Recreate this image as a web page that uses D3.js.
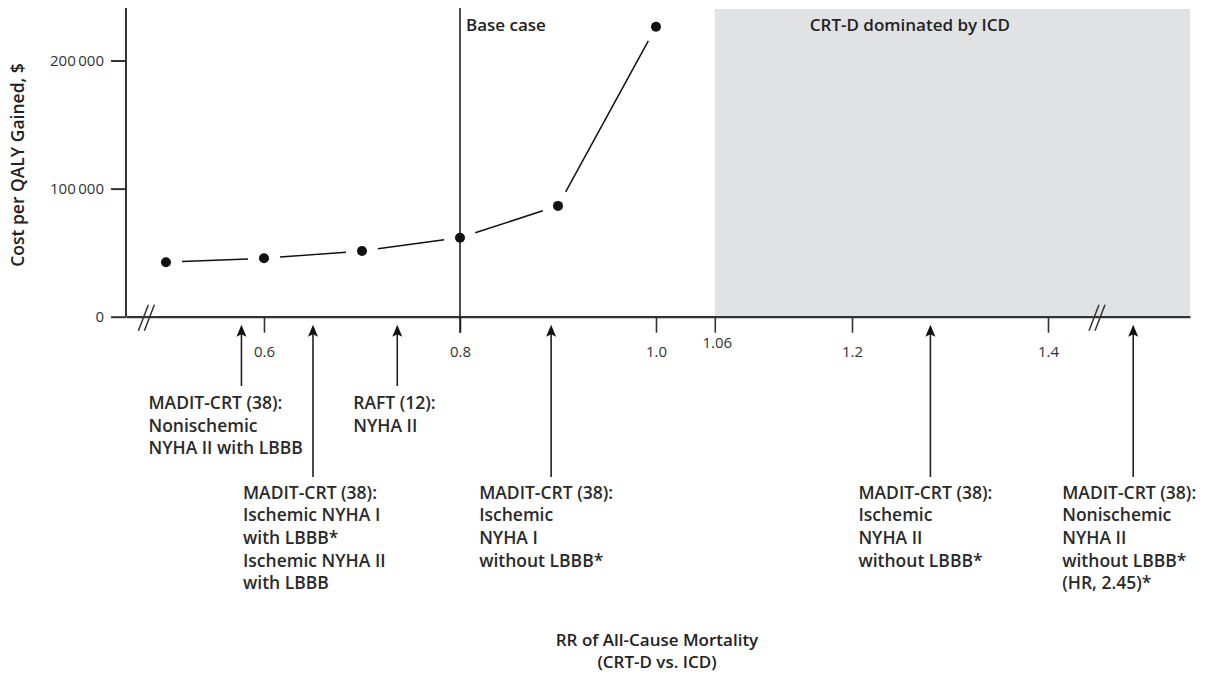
<!DOCTYPE html>
<html>
<head>
<meta charset="utf-8">
<script src="https://cdn.jsdelivr.net/npm/d3@7"></script>
<style>
  body { margin: 0; background: #fff; }
  svg { display: block; font-family: "Open Sans", sans-serif; }
</style>
</head>
<body>
<div id="chart"></div>
<script>
'use strict';

// data
const rrValues = [0.5, 0.6, 0.7, 0.8, 0.9, 1.0]
const costPerQaly = [42500, 45600, 51300, 61700, 86500, 226300]
const xTickValues = [0.6, 0.8, 1.0, 1.06, 1.2, 1.4]
const yTickValues = [0, 100000, 200000]
const baseCaseRR = 0.8
const dominatedFromRR = 1.06
const axisBreaksRR = [0.48, 1.45]
const studyRR = [0.577, 0.65, 0.736, 0.893, 1.28, 2.45]
const studyTier = [1, 2, 1, 2, 2, 2]
const studyLabels = [
  ['MADIT-CRT (38):', 'Nonischemic', 'NYHA II with LBBB'],
  ['MADIT-CRT (38):', 'Ischemic NYHA I', 'with LBBB*', 'Ischemic NYHA II', 'with LBBB'],
  ['RAFT (12):', 'NYHA II'],
  ['MADIT-CRT (38):', 'Ischemic', 'NYHA I', 'without LBBB*'],
  ['MADIT-CRT (38):', 'Ischemic', 'NYHA II', 'without LBBB*'],
  ['MADIT-CRT (38):', 'Nonischemic', 'NYHA II', 'without LBBB*', '(HR, 2.45)*']
]

// layout
const width = 1220
const height = 677
const labelDx = [-93, -70, -44, -72, -72, -71]
const tierTop = {1: 409, 2: 498.5}     // first baseline of label block
const tierArrowEnd = {1: 386, 2: 477}
const lineGap = 22.7
const ink = '#333'

const svg = d3.select('#chart')
  .append('svg')
  .attr('width', width)
  .attr('height', height)

// x scale is broken after 1.45 and jumps to the HR 2.45 region
const xScale = d3.scaleLinear()
  .domain([0.4592, 1.45, 2.413, 2.508])
  .range([126, 1097, 1097, 1190])

const yScale = d3.scaleLinear()
  .domain([0, 241000])
  .range([316.7, 8])

const xEnd = xScale.range()[3]
const yTop = yScale.range()[1]

// shaded region
svg.append('rect')
  .attr('x', xScale(dominatedFromRR))
  .attr('y', yScale(241000) + 1)
  .attr('width', xEnd - xScale(dominatedFromRR))
  .attr('height', yScale(0) - yScale(241000) - 1)
  .attr('fill', '#e1e2e4')

svg.append('text')
  .attr('x', xScale(dominatedFromRR) + 95)
  .attr('y', 31)
  .attr('font-size', 17)
  .attr('font-weight', 600)
  .attr('fill', '#222')
  .text('CRT-D dominated by ICD')

// y axis
const fmt = d3.formatLocale({decimal: '.', thousands: '\u2009', grouping: [3], currency: ['', '']}).format(',')
const yAxisGroup = svg.append('g')
  .attr('transform', `translate(126,0)`)
  .call(d3.axisLeft(yScale).tickValues(yTickValues).tickFormat(fmt).tickSize(15).tickPadding(7).tickSizeOuter(0))
yAxisGroup.select('.domain').remove()
yAxisGroup.append('line')
  .attr('x1', 0).attr('x2', 0)
  .attr('y1', yScale(0)).attr('y2', yTop)
  .attr('stroke', ink).attr('stroke-width', 2)
yAxisGroup.selectAll('.tick line').attr('stroke', ink).attr('stroke-width', 2)
yAxisGroup.selectAll('.tick text')
  .attr('fill', '#333')
  .style('font-size', '15px')
  .style('font-family', '"Open Sans", sans-serif')

// x axis
const xAxisGroup = svg.append('g')
  .attr('transform', `translate(0,${yScale(0)})`)
  .call(d3.axisBottom(xScale).tickValues(xTickValues).tickFormat(d3.format('.1f')).tickSize(16).tickPadding(14).tickSizeOuter(0))
xAxisGroup.select('.domain').attr('stroke', ink).attr('stroke-width', 2.2)
xAxisGroup.selectAll('.tick line').attr('stroke', ink).attr('stroke-width', 1.6)
xAxisGroup.selectAll('.tick text')
  .attr('fill', '#333')
  .style('font-size', '15px')
  .style('font-family', '"Open Sans", sans-serif')
xAxisGroup.selectAll('.tick')
  .filter(d => d === dominatedFromRR)
  .select('text')
  .attr('y', 21)
  .attr('dx', 2)
  .text(d3.format('.2f'))

// axis break marks
axisBreaksRR.forEach(b => {
  [-3, 3].forEach(o => {
    const cx = xScale(b) + o
    svg.append('line')
      .attr('x1', cx - 5).attr('y1', yScale(0) + 14)
      .attr('x2', cx + 5).attr('y2', yScale(0) - 12)
      .attr('stroke', ink).attr('stroke-width', 1.5)
  })
})

// base case line
svg.append('line')
  .attr('x1', xScale(baseCaseRR)).attr('x2', xScale(baseCaseRR))
  .attr('y1', yTop).attr('y2', yScale(0) + 16)
  .attr('stroke', '#222').attr('stroke-width', 1.6)
svg.append('text')
  .attr('x', xScale(baseCaseRR) + 6)
  .attr('y', 31)
  .attr('font-size', 17)
  .attr('font-weight', 600)
  .attr('fill', '#222')
  .text('Base case')

// connecting segments with gaps around the dots
const points = rrValues.map((r, i) => [xScale(r), yScale(costPerQaly[i])])
const gap = 16
d3.pairs(points).forEach(([a, b]) => {
  const dx = b[0] - a[0], dy = b[1] - a[1]
  const len = Math.hypot(dx, dy)
  const ux = dx / len, uy = dy / len
  svg.append('line')
    .attr('x1', a[0] + ux * gap).attr('y1', a[1] + uy * gap)
    .attr('x2', b[0] - ux * gap).attr('y2', b[1] - uy * gap)
    .attr('stroke', '#111').attr('stroke-width', 1.5)
})

svg.append('g')
  .selectAll('circle')
  .data(points)
  .join('circle')
  .attr('cx', d => d[0])
  .attr('cy', d => d[1])
  .attr('r', 5)
  .attr('fill', '#111')

// study arrows and labels
const tipY = yScale(0) + 8
studyRR.forEach((r, i) => {
  const x = xScale(r)
  const tier = studyTier[i]
  svg.append('line')
    .attr('x1', x).attr('x2', x)
    .attr('y1', tipY + 8).attr('y2', tierArrowEnd[tier])
    .attr('stroke', '#222').attr('stroke-width', 1.6)
  svg.append('path')
    .attr('d', `M${x},${tipY} L${x - 5},${tipY + 12} L${x},${tipY + 9.5} L${x + 5},${tipY + 12} Z`)
    .attr('fill', '#111')

  svg.append('g')
    .selectAll('text')
    .data(studyLabels[i])
    .join('text')
    .attr('x', x + labelDx[i])
    .attr('y', (d, k) => tierTop[tier] + k * lineGap)
    .attr('font-size', 17.5)
    .attr('font-weight', 600)
    .attr('fill', '#2a2a2a')
    .text(d => d)
})

// axis titles
svg.append('text')
  .attr('transform', `translate(24,165) rotate(-90)`)
  .attr('text-anchor', 'middle')
  .attr('font-size', 17.5)
  .attr('font-weight', 600)
  .attr('fill', '#222')
  .text('Cost per QALY Gained, $')

svg.append('text')
  .attr('x', 657)
  .attr('y', 646)
  .attr('text-anchor', 'middle')
  .attr('font-size', 17)
  .attr('font-weight', 600)
  .attr('fill', '#222')
  .text('RR of All-Cause Mortality')
svg.append('text')
  .attr('x', 657)
  .attr('y', 668)
  .attr('text-anchor', 'middle')
  .attr('font-size', 17)
  .attr('font-weight', 600)
  .attr('fill', '#222')
  .text('(CRT-D vs. ICD)')
</script>
</body>
</html>
